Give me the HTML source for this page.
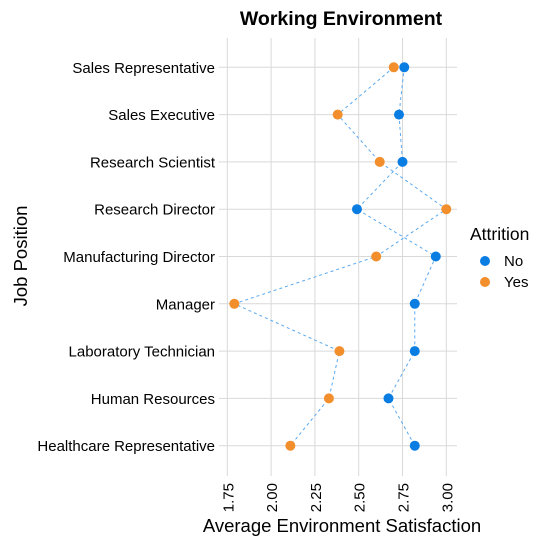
<!DOCTYPE html>
<html><head><meta charset="utf-8"><style>
body{margin:0;background:#fff;}
svg{display:block;font-family:"Liberation Sans",Arial,sans-serif;}
</style></head><body>
<svg width="549" height="547" viewBox="0 0 549 547">
<text x="341" y="25" text-anchor="middle" font-size="19.5" font-weight="bold">Working Environment</text>
<g id="grid"></g>
<g id="lines"></g>
<g id="points"></g>
<g id="ylabels"></g>
<g id="xlabels"></g>
<text x="342" y="532" text-anchor="middle" font-size="18.5">Average Environment Satisfaction</text>
<text transform="translate(27,256) rotate(-90)" text-anchor="middle" font-size="18.5">Job Position</text>
<g>
<text x="470" y="240" font-size="17.5">Attrition</text>
<circle cx="485" cy="261" r="5" fill="#0a7de3"/>
<text x="504" y="266" font-size="15">No</text>
<circle cx="485" cy="282" r="5" fill="#f28e2b"/>
<text x="504" y="287" font-size="15">Yes</text>
</g>
</svg>
<script>
const categories=["Sales Representative","Sales Executive","Research Scientist","Research Director","Manufacturing Director","Manager","Laboratory Technician","Human Resources","Healthcare Representative"];
const noValues=[2.76,2.73,2.75,2.49,2.94,2.82,2.82,2.67,2.82];
const yesValues=[2.70,2.38,2.62,3.00,2.60,1.79,2.39,2.33,2.11];
const xTicks=[1.75,2.00,2.25,2.50,2.75,3.00];
const xTickLabels=["1.75","2.00","2.25","2.50","2.75","3.00"];
const NS="http://www.w3.org/2000/svg";
const x=v=>227.3+(v-1.75)*175.2;
const y=i=>67.3+i*47.3;
function mk(tag,attrs,parent,txt){const e=document.createElementNS(NS,tag);for(const k in attrs)e.setAttribute(k,attrs[k]);if(txt!==undefined)e.textContent=txt;document.getElementById(parent).appendChild(e);return e;}
xTicks.forEach((t,i)=>{
  const g=mk('line',{x1:x(t),x2:x(t),y1:38,y2:476,stroke:'#d9d9d9','stroke-width':1},'grid');
  
  
  const lb=mk('text',{transform:`translate(${x(t)+6},483) rotate(-90)`,'text-anchor':'end','font-size':15},'xlabels',xTickLabels[i]);
  
  
});
categories.forEach((c,i)=>{
  const g=mk('line',{x1:219,x2:457,y1:y(i),y2:y(i),stroke:'#d9d9d9','stroke-width':1},'grid');
  
  
  const lb=mk('text',{x:215,y:y(i)+5.5,'text-anchor':'end','font-size':15},'ylabels',c);
  
  
});
[[noValues,'no-line'],[yesValues,'yes-line']].forEach(([vals,name])=>{
  const pl=mk('polyline',{points:vals.map((v,i)=>x(v)+','+y(i)).join(' '),fill:'none',stroke:'#5aa9f0','stroke-width':1,'stroke-dasharray':'3,3'},'lines');
  
  
});
categories.forEach((c,i)=>{
  const a=mk('circle',{cx:x(noValues[i]),cy:y(i),r:5,fill:'#0a7de3'},'points');
  
  
  const b=mk('circle',{cx:x(yesValues[i]),cy:y(i),r:5,fill:'#f28e2b'},'points');
  
  
});
</script>
</body></html>
